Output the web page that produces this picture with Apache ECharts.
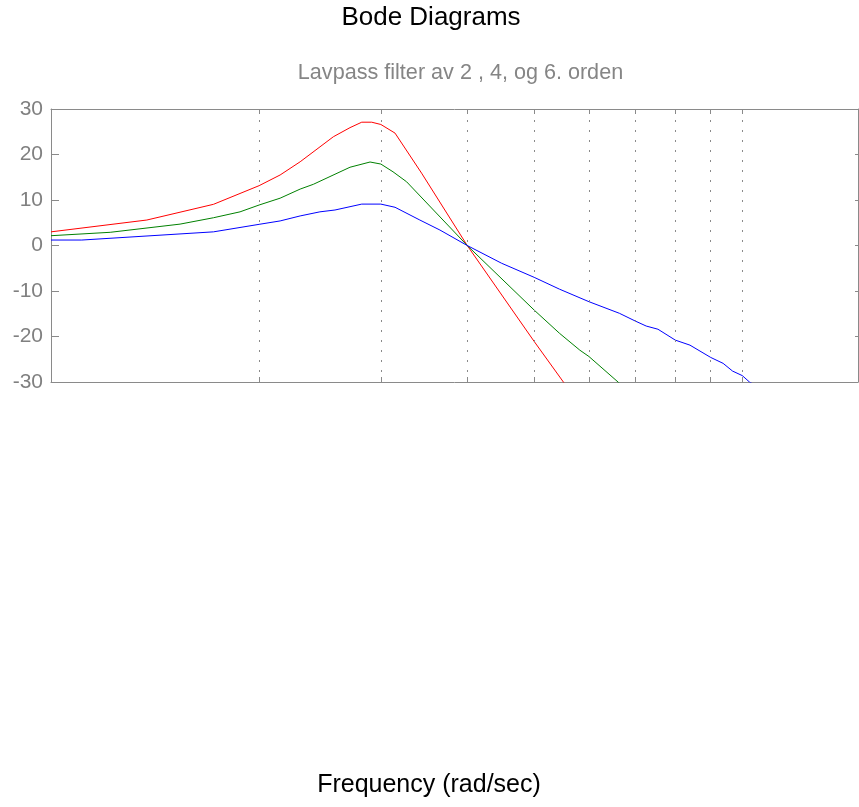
<!DOCTYPE html>
<html>
<head>
<meta charset="utf-8">
<script src="https://cdn.jsdelivr.net/npm/echarts@6/dist/echarts.min.js"></script>
<style>
html,body{margin:0;padding:0;background:#fff;}
#chart{width:859px;height:807px;}
</style>
</head>
<body>
<div id="chart"></div>
<script>
// ---- data ----
const titleText = 'Bode Diagrams';
const subtitleText = 'Lavpass filter av 2 , 4, og 6. orden';
const xLabelText = 'Frequency (rad/sec)';

const gridFreqs = [2, 3, 4, 5, 6, 7, 8, 9, 10];
const yTickValues = [-30, -20, -10, 0, 10, 20, 30];

// 6th order (red)
const freqRed = [1, 1.376, 1.718, 2, 2.145, 2.293, 2.561, 2.707, 2.815, 2.91, 3.0, 3.145, 3.436, 4.0, 5.0, 5.51, 6.0];
const magRed  = [3.0, 5.6, 9.05, 13.15, 15.5, 18.4, 23.9, 25.9, 27.1, 27.1, 26.6, 24.7, 15.9, 0, -21.1, -30, -38];

// 4th order (green)
const freqGreen = [1, 1.218, 1.537, 1.718, 1.877, 2, 2.145, 2.293, 2.396, 2.707, 2.894, 3.0, 3.124, 3.269, 4.0, 5.0, 5.44, 5.82, 6.0, 6.61, 7.0];
const magGreen  = [2.15, 2.9, 4.7, 6.1, 7.4, 8.9, 10.4, 12.4, 13.45, 17.2, 18.35, 17.9, 16.2, 14.0, 0, -14.2, -19.3, -23.0, -24.4, -30, -33.5];

// 2nd order (blue)
const freqBlue = [1, 1.108, 1.718, 2, 2.145, 2.293, 2.449, 2.575, 2.815, 3.0, 3.145, 3.416, 3.652, 4.0, 4.485, 5.0, 5.44, 6.0, 6.64, 7.0, 7.26, 7.55, 8.0, 8.40, 9.0, 9.38, 9.68, 10.0, 10.24, 10.6];
const magBlue  = [1.2, 1.2, 3.0, 4.65, 5.4, 6.5, 7.4, 7.8, 9.1, 9.1, 8.4, 5.6, 3.4, 0, -3.9, -7.0, -9.6, -12.35, -14.9, -16.6, -17.7, -18.4, -20.8, -21.9, -24.6, -25.9, -27.6, -28.6, -30, -31.2];

const xMin = 1, xMax = 14.7;
const yMin = -30, yMax = 30, yStep = 10;

// ---- chart ----
const FONT = '"Liberation Sans", Arial, Helvetica, sans-serif';
const AXIS_GRAY = '#8a8a8a';
const pairs = (xs, ys) => xs.map((x, i) => [x, ys[i]]);

const chart = echarts.init(document.getElementById('chart'), null, {renderer: 'canvas'});

const xAxisBase = {
  type: 'log', logBase: 10, min: xMin, max: xMax,
  axisLine: {show: true, onZero: false, lineStyle: {color: AXIS_GRAY, width: 1}},
  axisTick: {show: true, inside: true, length: 5, customValues: gridFreqs, lineStyle: {color: AXIS_GRAY}},
  axisLabel: {show: false},
  splitLine: {show: false},
  minorTick: {show: false}
};

const yAxisBase = {
  type: 'value', min: yMin, max: yMax, interval: yStep,
  axisLine: {show: true, onZero: false, lineStyle: {color: AXIS_GRAY, width: 1}},
  splitLine: {show: false}
};

const option = {
  animation: false,
  backgroundColor: '#fff',
  grid: {left: 51, right: 1, top: 109, height: 273, containLabel: false},
  xAxis: [
    Object.assign({}, xAxisBase, {position: 'bottom'}),
    Object.assign({}, xAxisBase, {position: 'top'})
  ],
  yAxis: [
    Object.assign({}, yAxisBase, {
      position: 'left',
      axisTick: {show: true, inside: true, length: 8, lineStyle: {color: AXIS_GRAY}},
      axisLabel: {show: true, color: '#808080', fontFamily: FONT, fontSize: 21, margin: 8,
        formatter: v => (yTickValues.indexOf(v) >= 0 ? String(v) : '')}
    }),
    Object.assign({}, yAxisBase, {
      position: 'right',
      axisTick: {show: true, inside: true, length: 3, lineStyle: {color: AXIS_GRAY}},
      axisLabel: {show: false}
    })
  ],
  graphic: [
    {type: 'text', x: 431, y: 18, style: {text: titleText, font: '26px ' + FONT, fill: '#000', align: 'center', verticalAlign: 'middle'}},
    {type: 'text', x: 460.5, y: 73, style: {text: subtitleText, font: '21.6px ' + FONT, fill: '#858585', align: 'center', verticalAlign: 'middle'}},
    {type: 'text', x: 429, y: 785, style: {text: xLabelText, font: '25px ' + FONT, fill: '#000', align: 'center', verticalAlign: 'middle'}}
  ],
  series: [
    {
      name: 'grid', type: 'line', data: [], silent: true,
      markLine: {
        silent: true, symbol: ['none', 'none'], animation: false,
        label: {show: false},
        lineStyle: {color: '#8a8a8a', type: [2, 8], width: 1},
        data: gridFreqs.map(f => ({xAxis: f}))
      }
    },
    {name: '6. orden', type: 'line', data: pairs(freqRed, magRed), showSymbol: false, symbol: 'none', clip: true,
     lineStyle: {color: '#ff0000', width: 1}, itemStyle: {color: '#ff0000'}},
    {name: '4. orden', type: 'line', data: pairs(freqGreen, magGreen), showSymbol: false, symbol: 'none', clip: true,
     lineStyle: {color: '#008000', width: 1}, itemStyle: {color: '#008000'}},
    {name: '2. orden', type: 'line', data: pairs(freqBlue, magBlue), showSymbol: false, symbol: 'none', clip: true,
     lineStyle: {color: '#0000ff', width: 1}, itemStyle: {color: '#0000ff'}}
  ]
};
chart.setOption(option);
</script>
</body>
</html>
